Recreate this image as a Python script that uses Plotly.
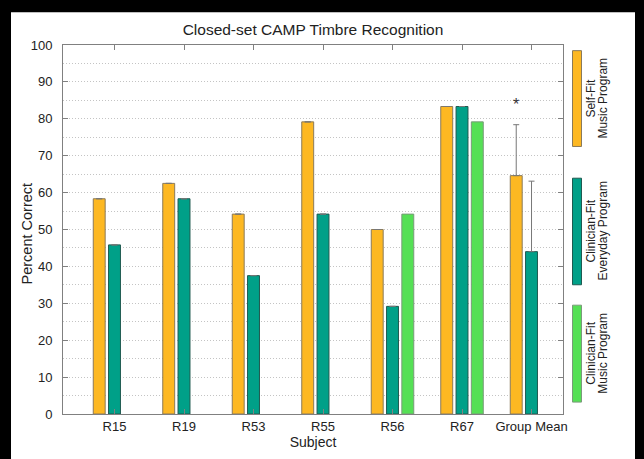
import plotly.graph_objects as go

subjects = ["R15", "R19", "R53", "R55", "R56", "R67", "Group Mean"]
self_fit_music = [58.33, 62.5, 54.17, 79.17, 50.0, 83.33, 64.6]
clinician_everyday = [45.83, 58.33, 37.5, 54.17, 29.17, 83.33, 44.0]
clinician_music = [None, None, None, None, 54.17, 79.17, None]
self_fit_err = [None, None, None, None, None, None, 13.8]
clinician_everyday_err = [None, None, None, None, None, None, 19.1]
zeros_err = [0, 0, 0, 0, 0, 0, 0]
star_level = 85

legend_lines = [("Self-Fit", "Music Program"),
                ("Clinician-Fit", "Everyday Program"),
                ("Clinician-Fit", "Music Program")]
colors = ["#FDB822", "#00A088", "#55E055"]
edges = ["#8a7a5a", "#1f5a50", "#7a9a7a"]

FONT = "Liberation Sans, Arial, sans-serif"

fig = go.Figure()
err_color = "#777777"
fig.add_trace(go.Bar(x=subjects, y=self_fit_music, name="Self-Fit Music Program",
                     marker=dict(color=colors[0], line=dict(color=edges[0], width=1)),
                     error_y=dict(type="data", symmetric=False, array=self_fit_err, arrayminus=zeros_err,
                                  color=err_color, thickness=1, width=3)))
fig.add_trace(go.Bar(x=subjects, y=clinician_everyday, name="Clinician-Fit Everyday Program",
                     marker=dict(color=colors[1], line=dict(color=edges[1], width=1)),
                     error_y=dict(type="data", symmetric=False, array=clinician_everyday_err, arrayminus=zeros_err,
                                  color=err_color, thickness=1, width=3)))
fig.add_trace(go.Bar(x=subjects, y=clinician_music, name="Clinician-Fit Music Program",
                     marker=dict(color=colors[2], line=dict(color=edges[2], width=1))))

W, H = 644, 459
L, R, T, B = 63, 563, 45, 417

def px(xp):
    return (xp - L) / (R - L)

def py(yp):
    return (B - yp) / (B - T)

shapes = [
    dict(type="rect", xref="paper", yref="paper", x0=px(11), x1=px(635), y0=-0.3, y1=py(12),
         fillcolor="white", line=dict(width=0), layer="below"),
]
legend_boxes = [(50.7, 147.3), (179.3, 286.7), (307.3, 405.0)]
annotations = []
for (top, bot), c, e, (l1, l2) in zip(legend_boxes, colors, edges, legend_lines):
    shapes.append(dict(type="rect", xref="paper", yref="paper", x0=px(572.5), x1=px(581.5),
                       y0=py(bot), y1=py(top), fillcolor=c, line=dict(color=e, width=1), layer="above"))
    for txt, xc in ((l1, 591), (l2, 603)):
        annotations.append(dict(xref="paper", yref="paper", x=px(xc), y=py((top + bot) / 2),
                                xanchor="center", yanchor="middle",
                                text=txt, textangle=-90, showarrow=False,
                                font=dict(family=FONT, size=12, color="#222")))

annotations.append(dict(x="Group Mean", y=star_level, xref="x", yref="y", text="*", showarrow=False,
                        xshift=-15.5, yshift=-4, font=dict(family=FONT, size=16, color="#333")))
annotations.append(dict(xref="paper", yref="paper", x=px(27), y=py(235), text="Percent Correct",
                        textangle=-90, showarrow=False, xanchor="center", yanchor="middle",
                        font=dict(family=FONT, size=14.5, color="#222")))

fig.update_layout(
    width=W, height=H,
    margin=dict(l=L, r=W - R, t=T, b=H - B, pad=0),
    paper_bgcolor="black", plot_bgcolor="white",
    barmode="group", bargap=0.34, bargroupgap=0.22,
    showlegend=False,
    title=dict(text="Closed-set CAMP Timbre Recognition", x=0.5, xref="paper", xanchor="center",
               y=1 - 30 / H, yanchor="middle", font=dict(family=FONT, size=15.5, color="#222")),
    shapes=shapes, annotations=annotations,
    font=dict(family=FONT, color="#222"),
)
fig.update_xaxes(
    type="category", range=[-0.741, 6.453],
    showline=True, linecolor="#808080", linewidth=1, mirror="ticks",
    ticks="inside", ticklen=5, tickcolor="#808080",
    showgrid=False, tickfont=dict(family=FONT, size=13, color="#222"),
    title=dict(text="Subject", font=dict(family=FONT, size=14, color="#222"), standoff=4),
)
fig.update_yaxes(
    range=[0, 100], tickmode="linear", tick0=0, dtick=10,
    showline=True, linecolor="#808080", linewidth=1, mirror="ticks",
    ticks="inside", ticklen=5, tickcolor="#808080",
    showgrid=True, gridcolor="#c4c4c4", griddash="1px,2px", gridwidth=1, zeroline=False,
    minor=dict(dtick=5, showgrid=True, gridcolor="#c4c4c4", griddash="1px,2px", ticks=""),
    tickfont=dict(family=FONT, size=13, color="#222"), ticklabelstandoff=7,
)

fig.write_html("out.html", config={"displayModeBar": False},
               post_script="document.body.style.margin='0';document.body.style.overflow='hidden';")
